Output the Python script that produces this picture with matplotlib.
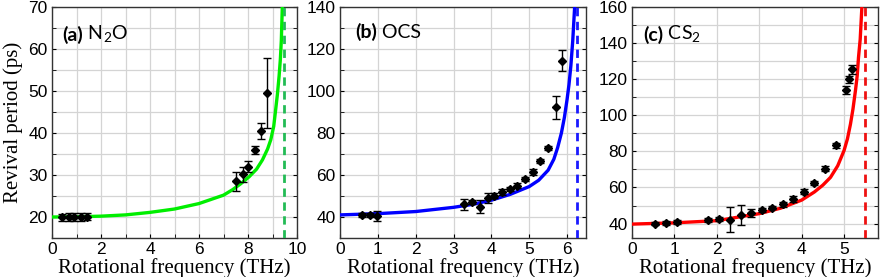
import numpy as np
import matplotlib
matplotlib.use('Agg')
import matplotlib.pyplot as plt
import matplotlib.ticker as tkr

# ---- data ----
# (a) N2O
a_f = [0.41, 0.68, 0.91, 1.18, 1.42, 7.52, 7.78, 8.02, 8.28, 8.52, 8.77]
a_T = [19.9, 20.0, 20.0, 20.0, 20.1, 28.5, 30.2, 32.0, 35.9, 40.5, 49.6]
a_err = [0.9, 0.9, 0.9, 0.9, 0.9, 2.3, 1.8, 1.4, 0.9, 1.9, 8.3]
a_fit_f = [0, 1, 2, 3, 4, 5, 6, 7, 7.37, 7.7, 8.05, 8.35, 8.59, 8.8, 8.93, 9.05, 9.13, 9.2, 9.27, 9.32, 9.36, 9.40]
a_fit_T = [20.0, 20.05, 20.2, 20.5, 21.1, 21.9, 23.2, 25.2, 26.5, 27.9, 29.6, 31.4, 33.6, 36.2, 38.4, 41.6, 45.6, 49.2, 53.6, 57.5, 62.0, 70.0]
a_pole = 9.45

# (b) OCS
b_f = [0.58, 0.78, 0.99, 3.27, 3.48, 3.69, 3.90, 4.08, 4.29, 4.49, 4.69, 4.90, 5.10, 5.29, 5.50, 5.70, 5.86]
b_T = [41.0, 41.0, 40.6, 46.0, 47.0, 45.0, 49.0, 50.2, 51.8, 53.3, 55.0, 58.2, 61.5, 66.5, 72.7, 92.3, 114.4]
b_err = [1.0, 1.0, 2.4, 2.6, 1.0, 3.0, 2.3, 1.0, 1.3, 1.0, 1.0, 1.0, 1.3, 1.0, 1.0, 5.4, 4.9]
b_fit_f = [0, 1, 2, 3, 3.5, 4, 4.5, 5, 5.25, 5.5, 5.65, 5.75, 5.85, 5.93, 6.0, 6.05, 6.1, 6.15, 6.2]
b_fit_T = [41.0, 41.6, 42.6, 44.6, 46.0, 48.0, 50.8, 54.5, 57.5, 62.3, 67.5, 73.0, 80.0, 87.5, 96.0, 103.0, 112.0, 124.0, 140.0]
b_pole = 6.25

# (c) CS2
c_f = [0.55, 0.79, 1.05, 1.80, 2.05, 2.30, 2.56, 2.81, 3.06, 3.31, 3.55, 3.80, 4.05, 4.30, 4.55, 4.80, 5.05, 5.12, 5.18]
c_T = [40.0, 40.2, 40.9, 42.0, 42.4, 42.2, 44.8, 45.8, 47.4, 48.9, 50.6, 53.6, 57.7, 62.5, 70.3, 83.5, 114.0, 119.9, 125.6]
c_err = [1.0, 1.0, 1.3, 1.0, 1.0, 7.0, 5.6, 2.0, 1.2, 1.0, 1.2, 1.4, 1.2, 1.0, 1.4, 1.4, 2.0, 1.8, 2.5]
c_fit_f = [0, 1, 2, 3, 3.5, 4, 4.3, 4.5, 4.68, 4.85, 5.0, 5.08, 5.15, 5.21, 5.27, 5.31, 5.34, 5.38, 5.42]
c_fit_T = [39.7, 40.4, 41.6, 45.5, 48.5, 53.0, 57.5, 61.3, 65.6, 72.0, 80.5, 87.0, 95.0, 103.5, 114.0, 122.0, 132.0, 142.0, 160.0]
c_pole = 5.49

panels = [
    dict(f=a_f, T=a_T, e=a_err, ff=a_fit_f, fT=a_fit_T, pole=a_pole,
         col='#00ee00', dcol='#22bb55', xlim=(0, 10), ylim=(15, 70),
         xmaj=2, xmin=1, ymaj=10, ymin=5, lab='(a)', mol=r'N$_\mathregular{2}$O',
         left=52, right=297, lx=0.04, ly=0.88),
    dict(f=b_f, T=b_T, e=b_err, ff=b_fit_f, fT=b_fit_T, pole=b_pole,
         col='#0000ff', dcol='#1a1aff', xlim=(0, 6.5), ylim=(30, 140),
         xmaj=1, xmin=1, ymaj=20, ymin=10, lab='(b)', mol='OCS',
         left=340, right=586, lx=0.06, ly=0.89),
    dict(f=c_f, T=c_T, e=c_err, ff=c_fit_f, fT=c_fit_T, pole=c_pole,
         col='#ff0000', dcol='#ee1111', xlim=(0, 5.8), ylim=(32, 160),
         xmaj=1, xmin=1, ymaj=20, ymin=10, lab='(c)', mol=r'CS$_\mathregular{2}$',
         left=632, right=878, lx=0.045, ly=0.88),
]

W, H = 882, 277
fig = plt.figure(figsize=(W / 100, H / 100), dpi=100)

for p in panels:
    ax = fig.add_axes([p['left'] / W, (H - 238) / H, (p['right'] - p['left']) / W, 231 / H])
    ax.plot(p['ff'], p['fT'], color=p['col'], lw=2.4, zorder=3)
    ax.axvline(p['pole'], color=p['dcol'], lw=2, ls=(0, (3, 2)), zorder=3)
    ax.errorbar(p['f'], p['T'], yerr=p['e'], fmt='D', color='black', ms=4,
                elinewidth=1, capsize=3, capthick=1, zorder=4)
    ax.set_xlim(p['xlim'])
    ax.set_ylim(p['ylim'])
    ax.xaxis.set_major_locator(tkr.MultipleLocator(p['xmaj']))
    ax.xaxis.set_minor_locator(tkr.MultipleLocator(p['xmin']))
    ax.yaxis.set_major_locator(tkr.MultipleLocator(p['ymaj']))
    ax.yaxis.set_minor_locator(tkr.MultipleLocator(p['ymin']))
    ax.grid(which='both', color='#d4d4d4', lw=0.9, zorder=0)
    ax.set_axisbelow(True)
    ax.tick_params(which='both', direction='in', right=True, top=False,
                   labelsize=12.5, pad=3, length=3)
    for lbl in ax.get_xticklabels() + ax.get_yticklabels():
        lbl.set_fontfamily('Liberation Sans')
    for s in ax.spines.values():
        s.set_color('#333333')
        s.set_linewidth(1)
    ax.set_xlabel('Rotational frequency (THz)', fontfamily='Liberation Serif',
                  fontsize=15, labelpad=1)
    ax.text(p['lx'], p['ly'], p['lab'], transform=ax.transAxes, fontsize=14,
            fontweight='bold', fontfamily='Lato', va='center', ha='left')
    ax.annotate(' ' + p['mol'], xy=(1, 0.5), xycoords=ax.texts[-1],
                fontsize=14, fontfamily='Lato', va='center', ha='left')
    if p['lab'] == '(a)':
        ax.set_ylabel('Revival period (ps)', fontfamily='Liberation Serif',
                      fontsize=15, labelpad=4)

fig.savefig('out.png', dpi=100)
